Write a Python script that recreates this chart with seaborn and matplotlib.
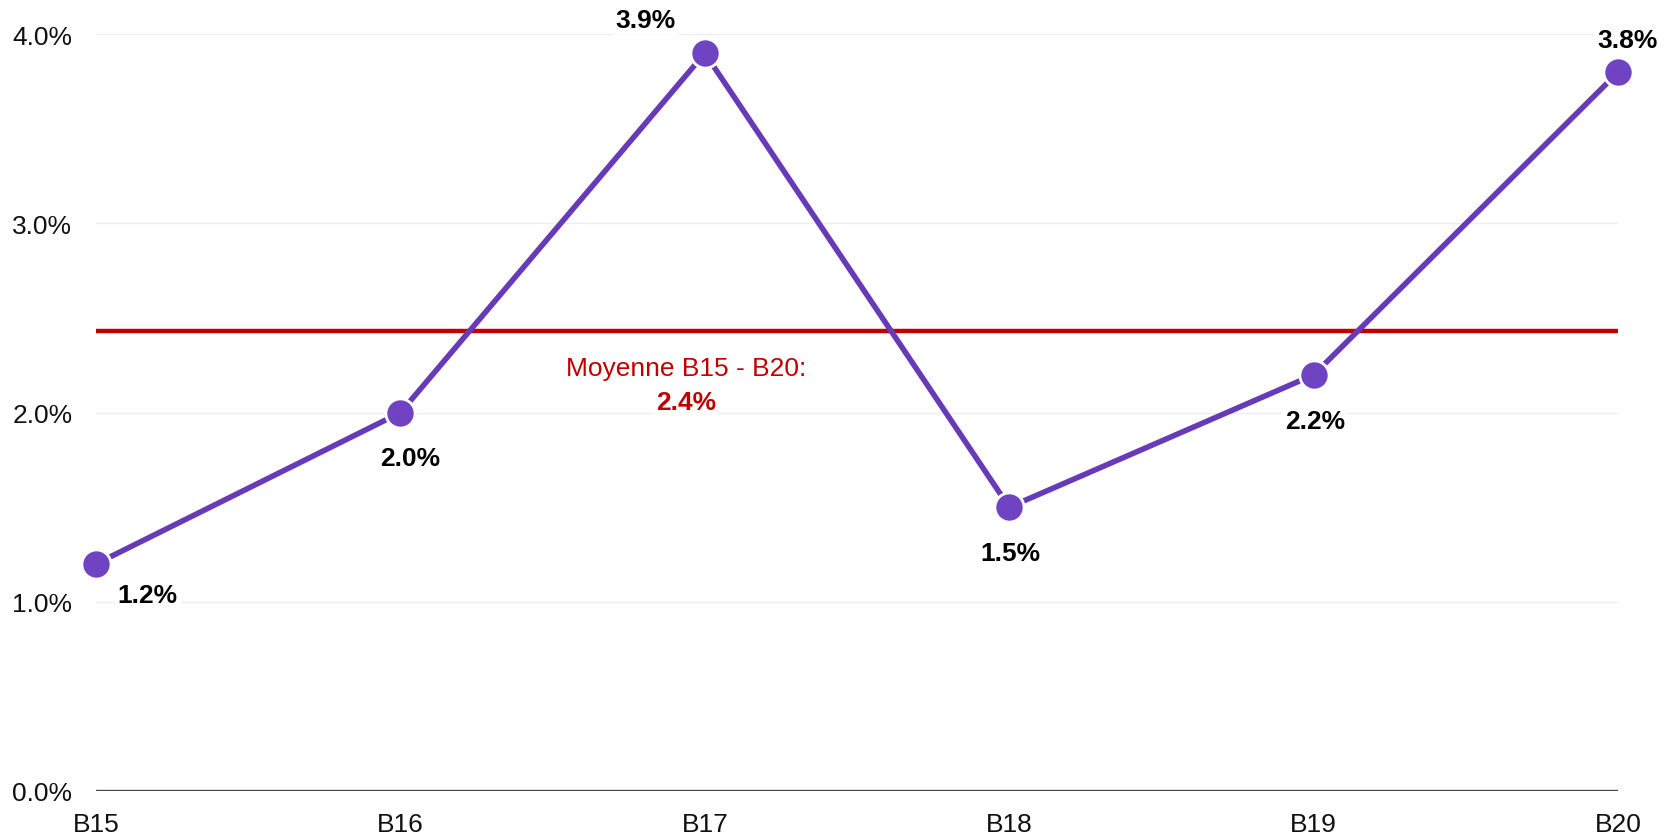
import pandas as pd
import seaborn as sns
import matplotlib.pyplot as plt

periods = ["B15", "B16", "B17", "B18", "B19", "B20"]
rates = [1.2, 2.0, 3.9, 1.5, 2.2, 3.8]
y_ticks = [0.0, 1.0, 2.0, 3.0, 4.0]
# label offsets in pixels (dx, dy)
label_offsets = [(52, -31), (10, -45), (-59, 33), (1, -46), (1, -46), (9, 32)]

LINE_COLOR = "#673AB7"
MARKER_COLOR = "#7043C3"
AVG_COLOR = "#C00000"

df = pd.DataFrame({"period": periods, "rate": rates, "x": range(len(periods))})
avg = sum(rates) / len(rates)

sns.set_theme(style="white")
plt.rcParams["font.family"] = ["Liberation Sans", "DejaVu Sans"]

fig = plt.figure(figsize=(16.71, 8.37), dpi=100)
ax = fig.add_axes([0.0574, 0.0538, 0.911, 0.904])

for t in y_ticks[1:]:
    ax.axhline(t, color="#EEEEEE", lw=1, zorder=0)
ax.axhline(0, color="#444444", lw=2.4, zorder=1)

ax.axhline(avg, color=AVG_COLOR, lw=3.2, zorder=2)

sns.lineplot(data=df, x="x", y="rate", ax=ax, color=LINE_COLOR, lw=4,
             marker="o", markersize=21, markerfacecolor=MARKER_COLOR,
             markeredgecolor="white", markeredgewidth=2, zorder=3, clip_on=False)

for i, (v, (dx, dy)) in enumerate(zip(rates, label_offsets)):
    ax.annotate(f"{v:.1f}%", (i, v), xytext=(dx, dy), textcoords="offset pixels",
                ha="center", va="center", fontsize=19, fontweight="bold", color="black",
                bbox=dict(boxstyle="square,pad=0.1", fc="white", ec="none"), zorder=4)

ax.annotate("Moyenne B15 - B20:", (1.94, avg), xytext=(0, -37), textcoords="offset pixels",
            ha="center", va="center", fontsize=19, color=AVG_COLOR, zorder=4)
ax.annotate(f"{avg:.1f}%", (1.94, avg), xytext=(0, -71), textcoords="offset pixels",
            ha="center", va="center", fontsize=19, fontweight="bold", color=AVG_COLOR,
            bbox=dict(boxstyle="square,pad=0.1", fc="white", ec="none"), zorder=4)

ax.set_xlim(0, len(periods) - 1)
ax.set_ylim(0, 4)
ax.set_xticks(range(len(periods)))
ax.set_xticklabels(periods)
ax.set_yticks(y_ticks)
ax.set_yticklabels([f"{t:.1f}%" for t in y_ticks])
ax.tick_params(axis="both", length=0, labelsize=19, colors="#111111")
ax.tick_params(axis="y", pad=17)
ax.tick_params(axis="x", pad=15)
ax.set_xlabel("")
ax.set_ylabel("")
sns.despine(ax=ax, left=True, bottom=True)

fig.savefig("out.png", dpi=100)
